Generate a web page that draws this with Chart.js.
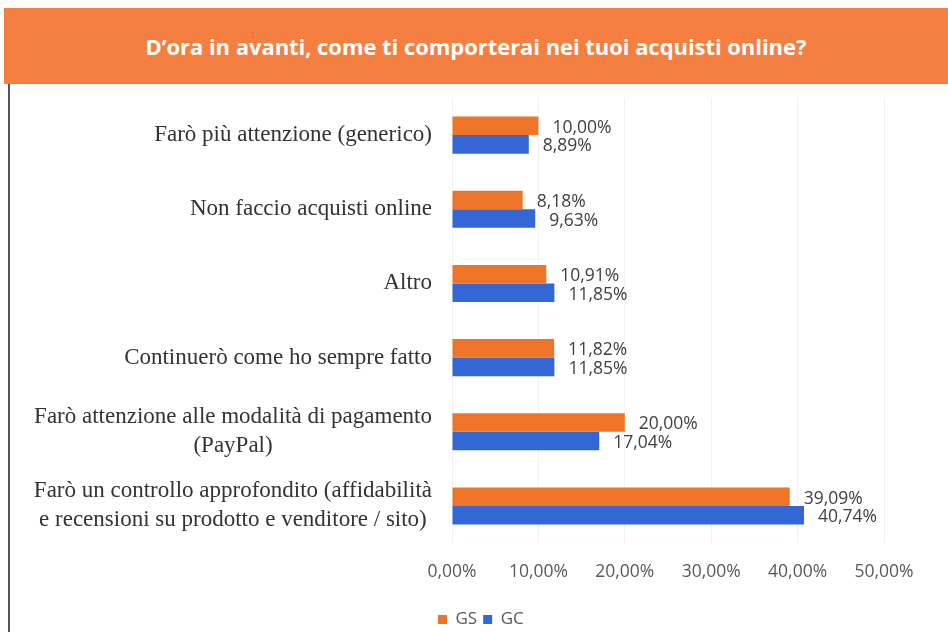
<!DOCTYPE html>
<html>
<head>
<meta charset="utf-8">
<script src="https://cdn.jsdelivr.net/npm/chart.js@4/dist/chart.umd.min.js"></script>
<style>
  html, body { margin: 0; padding: 0; background: #fff; width: 948px; height: 632px; overflow: hidden; }
  #header { position: absolute; left: 4px; top: 8px; width: 944px; height: 76px; background: #F47F41;
    color: #fff; font-family: "Open Sans", sans-serif; font-weight: bold; font-size: 22px;
    display: flex; align-items: center; justify-content: center; letter-spacing: -0.05px; }
  #wrap { position: absolute; left: 8px; top: 84px; width: 938px; height: 548px; border-left: 2px solid #555; }
  canvas { display: block; }
</style>
</head>
<body>
<div id="header">D’ora in avanti, come ti comporterai nei tuoi acquisti online?</div>
<div id="wrap"><canvas id="c" width="938" height="548"></canvas></div>
<script>
const categories = [
  ["Farò più attenzione (generico)"],
  ["Non faccio acquisti online"],
  ["Altro"],
  ["Continuerò come ho sempre fatto"],
  ["Farò attenzione alle modalità di pagamento", "(PayPal)"],
  ["Farò un controllo approfondito (affidabilità", "e recensioni su prodotto e venditore / sito)"]
];
const seriesNames = ["GS", "GC"];
const gsValues = [10.00, 8.18, 10.91, 11.82, 20.00, 39.09];
const gcValues = [8.89, 9.63, 11.85, 11.85, 17.04, 40.74];
const xTicks = [0, 10, 20, 30, 40, 50];
const colors = ["#EE7527", "#3367D6"];

const fmt = v => v.toFixed(2).replace('.', ',') + '%';

const catLabelPlugin = {
  id: 'catLabels',
  afterDraw(chart) {
    const ctx = chart.ctx;
    const y = chart.scales.y;
    ctx.save();
    ctx.font = '23px "Liberation Serif", "Times New Roman", serif';
    ctx.fillStyle = '#333333';
    ctx.textAlign = 'center';
    ctx.textBaseline = 'middle';
    const rightEdge = chart.chartArea.left - 20;
    const lh = 29;
    categories.forEach((lines, i) => {
      const cy = y.getPixelForTick(i);
      const maxW = Math.max(...lines.map(l => ctx.measureText(l).width));
      const cx = rightEdge - maxW / 2;
      const start = cy - (lines.length - 1) * lh / 2;
      lines.forEach((l, j) => ctx.fillText(l, cx, start + j * lh));
    });
    ctx.restore();
  }
};

const valueLabelPlugin = {
  id: 'valueLabels',
  afterDatasetsDraw(chart) {
    const ctx = chart.ctx;
    ctx.save();
    ctx.font = '17.5px "Open Sans", "Liberation Sans", sans-serif';
    ctx.fillStyle = '#404040';
    ctx.textAlign = 'left';
    ctx.textBaseline = 'middle';
    chart.data.datasets.forEach((ds, di) => {
      const meta = chart.getDatasetMeta(di);
      meta.data.forEach((bar, i) => {
        ctx.fillText(fmt(ds.data[i]), bar.x + 14, bar.y + 2);
      });
    });
    ctx.restore();
  }
};

const legendShift = {
  id: 'legendShift',
  afterLayout(chart) {
    const lg = chart.legend;
    if (lg) { lg.left -= 20; lg.right -= 20; lg.top += 6; lg.bottom += 6; }
  }
};

new Chart(document.getElementById('c'), {
  type: 'bar',
  data: {
    labels: categories.map(c => c.join(' ')),
    datasets: [
      { label: seriesNames[0], data: gsValues, backgroundColor: colors[0], barPercentage: 1.0, categoryPercentage: 0.5 },
      { label: seriesNames[1], data: gcValues, backgroundColor: colors[1], barPercentage: 1.0, categoryPercentage: 0.5 }
    ]
  },
  options: {
    indexAxis: 'y',
    responsive: false,
    animation: false,
    layout: { padding: { top: 14, right: 64, left: 0, bottom: 0 } },
    scales: {
      x: {
        min: 0, max: 50,
        afterBuildTicks: s => { s.ticks = xTicks.map(v => ({ value: v })); },
        afterFit: s => { s.height = 56; },
        grid: { color: 'rgba(0,0,0,0.05)', drawTicks: false },
        border: { display: false },
        ticks: {
          padding: 19,
          color: '#595959',
          font: { family: '"Open Sans", "Liberation Sans", sans-serif', size: 17.5 },
          callback: v => fmt(v)
        }
      },
      y: {
        afterFit: s => { s.width = 442; },
        grid: { display: false },
        border: { display: false },
        ticks: { display: false }
      }
    },
    plugins: {
      legend: {
        position: 'bottom',
        align: 'start',
        fullSize: false,
        labels: {
          boxWidth: 9, boxHeight: 9, padding: 6,
          color: '#595959',
          font: { family: '"Open Sans", "Liberation Sans", sans-serif', size: 17 }
        }
      },
      tooltip: { enabled: false },
      title: { display: false }
    }
  },
  plugins: [catLabelPlugin, valueLabelPlugin, legendShift]
});
</script>
</body>
</html>
